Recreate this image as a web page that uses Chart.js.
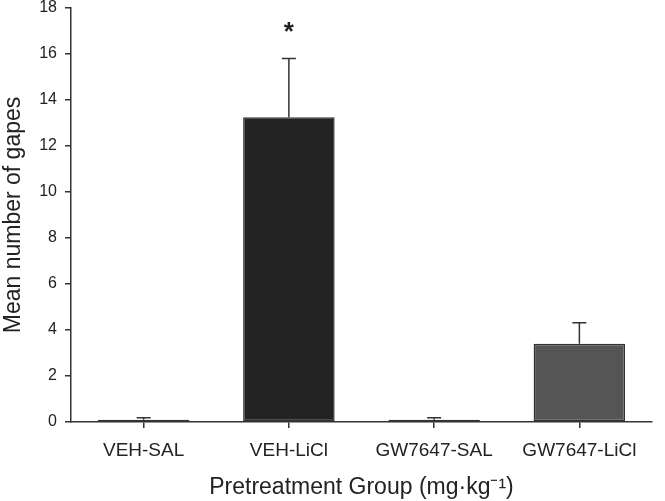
<!DOCTYPE html>
<html>
<head>
<meta charset="utf-8">
<script src="https://cdn.jsdelivr.net/npm/chart.js@4"></script>
<style>
  html, body { margin: 0; padding: 0; background: #fff; }
  #wrap { width: 665px; height: 501px; }
</style>
</head>
<body>
<div id="wrap"><canvas id="chart"></canvas></div>
<script>
(function () {
  "use strict";

  // Dados
  const GRUPOS = ["VEH-SAL", "VEH-LiCl", "GW7647-SAL", "GW7647-LiCl"];
  const MEDIAS = [0.1, 13.25, 0.1, 3.4];
  const ERROS = [0.08, 2.55, 0.08, 0.92];
  const SIGNIFICATIVO = ["", "*", "", ""];
  const CORES = ["#3a3a3a", "#232323", "#3a3a3a", "#555555"];

  const FONTE = "'Liberation Sans', Arial, sans-serif";

  // Barras de erro (somente para cima) + asterisco de significância
  const errorBars = {
    id: "errorBars",
    afterDatasetsDraw(chart) {
      const ctx = chart.ctx;
      const y = chart.scales.y;
      const meta = chart.getDatasetMeta(0);
      ctx.save();
      ctx.strokeStyle = "#333";
      ctx.lineWidth = 1.5;
      meta.data.forEach((bar, i) => {
        const yTop = y.getPixelForValue(MEDIAS[i] + ERROS[i]);
        const yBase = y.getPixelForValue(MEDIAS[i]);
        ctx.beginPath();
        ctx.moveTo(bar.x, yBase);
        ctx.lineTo(bar.x, yTop);
        ctx.moveTo(bar.x - 7, yTop);
        ctx.lineTo(bar.x + 7, yTop);
        ctx.stroke();
        if (SIGNIFICATIVO[i]) {
          ctx.fillStyle = "#222";
          ctx.font = "bold 26px " + FONTE;
          ctx.textAlign = "center";
          ctx.textBaseline = "middle";
          ctx.fillText(SIGNIFICATIVO[i], bar.x, yTop - 26);
        }
      });
      ctx.restore();
    },
  };

  new Chart(document.getElementById("chart"), {
    type: "bar",
    data: {
      labels: GRUPOS,
      datasets: [
        {
          data: MEDIAS,
          backgroundColor: CORES,
          borderColor: "#333",
          borderWidth: 1.5,
          borderSkipped: false,
          categoryPercentage: 1,
          barPercentage: 0.63,
        },
      ],
    },
    options: {
      responsive: true,
      maintainAspectRatio: false,
      animation: false,
      layout: { padding: { top: 0, right: 13, left: 0, bottom: 0 } },
      plugins: {
        legend: { display: false },
        tooltip: { enabled: false },
      },
      scales: {
        x: {
          offset: true,
          grid: {
            offset: false,
            drawOnChartArea: false,
            tickLength: 6,
            color: "#333",
            lineWidth: 1.5,
          },
          border: { color: "#333", width: 1.5 },
          ticks: {
            color: "#222",
            padding: 11,
            font: { family: FONTE, size: 19 },
          },
          title: {
            display: true,
            text: "Pretreatment Group (mg·kg⁻¹)",
            color: "#222",
            padding: { top: 4, bottom: 0 },
            font: { family: FONTE, size: 23 },
          },
          afterFit: (s) => { s.height = 79; },
        },
        y: {
          min: 0,
          max: 18,
          grid: {
            drawOnChartArea: false,
            tickLength: 6,
            color: "#333",
            lineWidth: 1.5,
          },
          border: { color: "#333", width: 1.5 },
          ticks: {
            stepSize: 2,
            color: "#222",
            padding: 8,
            font: { family: FONTE, size: 16 },
          },
          title: {
            display: true,
            text: "Mean number of gapes",
            color: "#222",
            padding: { top: 0, bottom: 6 },
            font: { family: FONTE, size: 23 },
          },
          afterFit: (s) => {
            s.width = 71;
            s.paddingTop = 8;
            s.paddingBottom = 0;
          },
        },
      },
    },
    plugins: [errorBars],
  });
})();
</script>
</body>
</html>
